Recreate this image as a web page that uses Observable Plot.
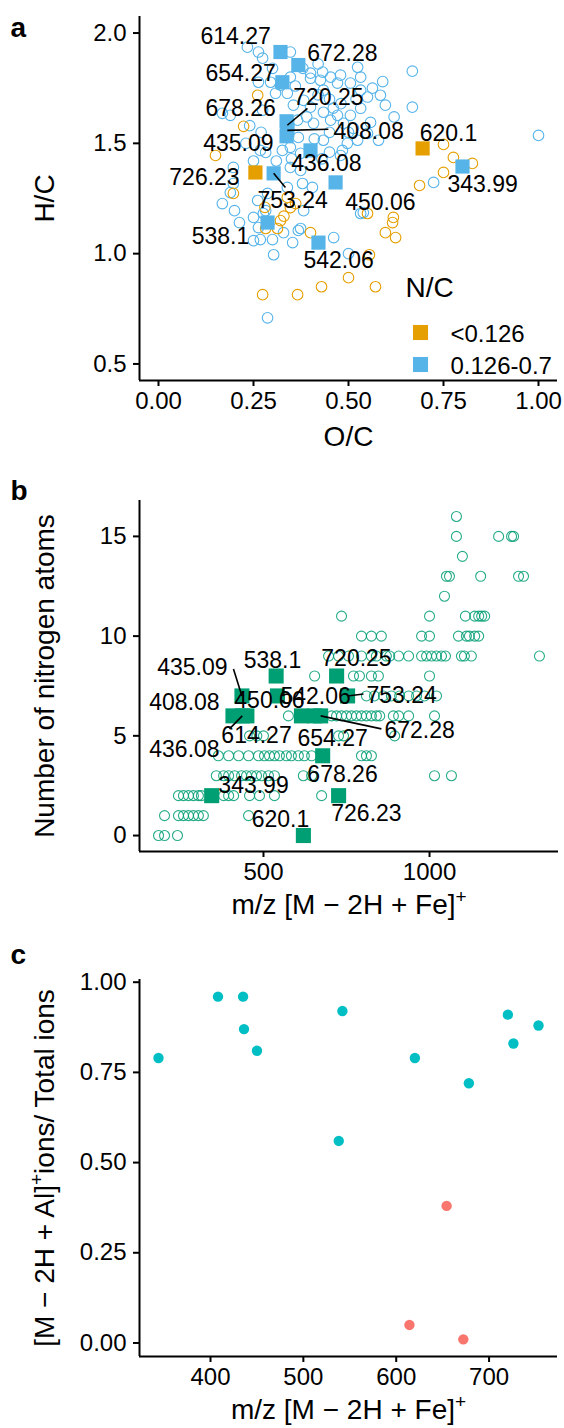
<!DOCTYPE html>
<html><head><meta charset="utf-8">
<script src="https://cdn.jsdelivr.net/npm/d3@7"></script>
<script src="https://cdn.jsdelivr.net/npm/@observablehq/plot@0.6"></script>
<style>
body{margin:0;background:#fff;}
#chart{width:564px;}
#chart svg{display:block;}
</style></head><body><div id="chart"></div>
<script>
// ---------- data ----------
const ions   = ["343.99","408.08","435.09","436.08","450.06","538.1","542.06","614.27","620.1","654.27","672.28","678.26","720.25","726.23","753.24"];
const ionMZ  = [343.99,408.08,435.09,436.08,450.06,538.1,542.06,614.27,620.1,654.27,672.28,678.26,720.25,726.23,753.24];
const ionOC  = [0.80,0.339,0.337,0.40,0.466,0.287,0.421,0.321,0.695,0.326,0.368,0.337,0.339,0.255,0.303];
const ionHC  = [1.395,1.559,1.532,1.468,1.323,1.141,1.05,1.914,1.477,1.777,1.855,1.60,1.582,1.368,1.364];
const ionNC  = ["0.126-0.7","0.126-0.7","0.126-0.7","0.126-0.7","0.126-0.7","0.126-0.7","0.126-0.7","0.126-0.7","<0.126","0.126-0.7","0.126-0.7","0.126-0.7","0.126-0.7","<0.126","0.126-0.7"];
const ionN   = [2,6,7,6,6,8,7,6,0,6,6,4,8,2,7];
const ionRatio = [0.79,0.96,0.96,0.87,0.81,0.56,0.92,0.05,0.79,0.38,0.01,0.72,0.91,0.83,0.88];
const ionGroup = ["high","high","high","high","high","high","high","low","high","low","low","high","high","high","high"];

// label anchor positions (data units, as placed by the repel layout)
const labA_OC = [0.853,0.553,0.21,0.442,0.584,0.163,0.474,0.203,0.763,0.216,0.484,0.216,0.447,0.121,0.353];
const labA_HC = [1.314,1.555,1.50,1.409,1.232,1.077,0.968,1.986,1.545,1.818,1.905,1.659,1.709,1.345,1.241];
const labB_MZ = [470,262,286,262,518,527,657,479,551,708,970,738,780,810,916];
const labB_N  = [2.5,6.65,8.4,4.3,6.75,8.75,6.95,5.0,0.8,4.85,5.25,3.05,8.85,1.1,7.0];
// leader segments: [ion, endX, endY]
const segA = [["720.25",0.392,1.659],["408.08",0.447,1.564],["753.24",0.334,1.30]];
const segB = [["435.09",409.6,8.35],["436.08",397.6,5.35],["672.28",855,5.35],["753.24",801,7.1]];

// panel a background compounds (O/C, H/C)
const blueOC = [0.234,0.263,0.347,0.668,0.668,1.0,0.524,0.563,0.453,0.479,0.532,0.40,0.432,0.579,0.497,0.479,0.724,0.326,0.168,0.189,0.274,0.282,0.189,0.20,0.213,0.25,0.263,0.25,0.268,0.30,0.303,0.287,0.532,0.374,0.329,0.353,0.461,0.50,0.197,0.261,0.282,0.368,0.379,0.405,0.382,0.539,0.274,0.263,0.295,0.321,0.308,0.339,0.347,0.40,0.426,0.434,0.471,0.505,0.532,0.40,0.434,0.471,0.505,0.532,0.382,0.355,0.366,0.408,0.453,0.487,0.513,0.558,0.55,0.524,0.484,0.434,0.374,0.368,0.347,0.268,0.347,0.374,0.339,0.287,0.276,0.197,0.168,0.584,0.597,0.45,0.48,0.42,0.46,0.39,0.50,0.45,0.41,0.52,0.55,0.36,0.38,0.30,0.42,0.45,0.43,0.35,0.31,0.25,0.23,0.27,0.24,0.59,0.62];
const blueHC = [1.936,1.914,1.914,1.827,1.664,1.536,1.845,1.75,1.80,1.809,1.80,1.795,1.823,1.514,1.50,1.445,1.323,1.468,1.636,1.627,1.65,1.459,1.277,1.195,1.141,1.164,1.118,1.059,1.064,1.064,0.995,0.709,1.182,1.114,1.095,1.05,1.073,1.0,1.391,1.241,1.195,1.105,1.318,1.30,1.195,1.186,1.886,1.777,1.777,1.764,1.727,1.727,1.80,1.818,1.786,1.741,1.773,1.773,1.741,1.664,1.641,1.627,1.627,1.659,1.695,1.673,1.605,1.591,1.605,1.591,1.568,1.595,1.545,1.514,1.468,1.514,1.455,1.527,1.482,1.468,1.391,1.377,1.30,1.273,1.182,1.318,1.227,1.718,1.673,1.70,1.68,1.72,1.66,1.62,1.55,1.55,1.52,1.70,1.71,1.76,1.84,1.84,1.86,1.46,1.43,1.43,1.42,1.42,1.50,1.55,1.58,1.78,1.62];
const orangeOC = [0.261,0.224,0.15,0.197,0.75,0.776,0.826,0.75,0.687,0.274,0.282,0.55,0.618,0.616,0.597,0.624,0.40,0.555,0.50,0.429,0.571,0.366,0.347,0.321,0.339,0.313,0.361,0.28,0.33];
const orangeHC = [1.718,1.577,1.445,1.273,1.495,1.436,1.409,1.368,1.309,0.814,1.114,1.182,1.164,1.141,1.095,1.073,1.095,0.995,0.891,0.85,0.85,0.814,1.209,1.15,1.255,1.114,1.227,1.21,1.17];

// panel b background compounds: m/z per nitrogen count
const nRows = [0,1,2,3,4,5,6,7,8,9,10,11,12,13,14,15,16];
const mzRows = [
  [184,202,241],
  [202,244,259,274,289,304,319,455],
  [244,259,274,289,304,313,380,395,410,458,488,533,675],
  [358,380,395,413,434,449,464,479,494,515,533,620,645,1015,1066],
  [364,395,425,455,485,503,518,533,548,569,584,605,623,645,795,810,825],
  [458,480,500,726,741,895],
  [575,705,720,735,750,765,780,795,810,825,840,850,891,907,937,1015],
  [810,834,861,885,910,937,961,985,1021],
  [654,771,789,825,846,1000],
  [696,726,756,795,825,840,870,880,907,937,976,991,1006,1021,1036,1048,1096,1105,1126,1331],
  [795,825,855,976,1000,1087,1111,1120,1136,1148],
  [735,1000,1108,1136,1148,1157,1166],
  [1045],
  [1051,1060,1154,1268,1283],
  [1099],
  [1081,1208,1247,1253],
  [1081]
];

const ncClasses = ["<0.126","0.126-0.7"];
const ocTicks = [0,0.25,0.5,0.75,1];
const hcTicks = [0.5,1.0,1.5,2.0];
const ocLimits = [0,1], hcLimits = [0.5,2];
const mzTicksB = [500,1000], nTicks = [0,5,10,15];
const mzTicksC = [400,500,600,700], ratioTicks = [0,0.25,0.5,0.75,1];
const ratioGroups = ["low","high"];

// ---------- styling ----------
const FONT = "'Liberation Sans', Arial, Helvetica, sans-serif";
const ORANGE="#E69F00", BLUE="#56B4E9", GREEN="#009E73", RED="#F8766D", CYAN="#00BFC4";
const expand = ([a,b], f=0.05) => { const d=(b-a)*f; return [a-d,b+d]; };

const ionData = ions.map((id,i)=>({id, mz:ionMZ[i], oc:ionOC[i], hc:ionHC[i], nc:ionNC[i], n:ionN[i],
  ratio:ionRatio[i], grp:ionGroup[i], lax:labA_OC[i], lay:labA_HC[i], lbx:labB_MZ[i], lby:labB_N[i]}));
const byId = Object.fromEntries(ionData.map(d=>[d.id,d]));
const circA = [
  ...blueOC.map((x,i)=>({oc:x, hc:blueHC[i], nc:"0.126-0.7"})),
  ...orangeOC.map((x,i)=>({oc:x, hc:orangeHC[i], nc:"<0.126"}))
];
const circB = nRows.flatMap((n,i)=>mzRows[i].map(mz=>({mz,n})));
const linksA = segA.map(([id,x2,y2])=>({x1:byId[id].oc,y1:byId[id].hc,x2,y2}));
const linksB = segB.map(([id,x2,y2])=>({x1:byId[id].mz,y1:byId[id].n,x2,y2}));

const baseStyle = {fontFamily:FONT, fontSize:"24px", color:"black", background:"white", overflow:"visible"};
const axisOpts = {tickSize:6, strokeWidth:2, fontSize:24, label:null};
const T = (s, o) => Plot.text([s], {lineAnchor:"middle", textAnchor:"middle", fontSize:28, ...o});

function applySup(svg){
  svg.querySelectorAll("text").forEach(t=>{
    const s = t.textContent;
    if(!s.includes("^{")) return;
    const parts = s.split(/\^\{([^}]*)\}/);
    while(t.firstChild) t.removeChild(t.firstChild);
    let prevSup = false;
    parts.forEach((p,i)=>{
      if(p==="") { if(i%2===1) prevSup=true; return; }
      const ts = document.createElementNS("http://www.w3.org/2000/svg","tspan");
      ts.textContent = p;
      if(i%2===1){ ts.setAttribute("dy","-11"); ts.setAttribute("font-size","19"); prevSup=true; }
      else if(prevSup){ ts.setAttribute("dy","11"); prevSup=false; }
      t.appendChild(ts);
    });
  });
}
function fixTickFont(svg){
  svg.querySelectorAll('g[aria-label*="tick label"], g[aria-label$="-axis"]').forEach(g=>{
    g.setAttribute("font-size","24");
    g.style.fontSize = "24px";
    g.querySelectorAll("text").forEach(t=>{ t.style.fontSize = "24px"; });
  });
}

// ---------- panel a ----------
const xDomA = expand(ocLimits), yDomA = expand(hcLimits);
const mT_A = 16;
const legendMarks = [
  T("N/C", {frameAnchor:"top-left", dx:405-139, dy:288-mT_A, textAnchor:"start"}),
  ...ncClasses.flatMap((c,i)=>[
    Plot.dot([c], {frameAnchor:"top-left", dx:420-139, dy:332-mT_A+i*32, symbol:"square", r:8.5, fill:[ORANGE,BLUE][i], stroke:null}),
    T(c, {frameAnchor:"top-left", dx:450-139, dy:334-mT_A+i*32, textAnchor:"start", fontSize:24})
  ])
];
const plotA = Plot.plot({
  width:564, height:462, marginLeft:139, marginRight:7, marginTop:mT_A, marginBottom:82,
  style: baseStyle,
  x:{domain:xDomA}, y:{domain:yDomA},
  color:{domain:ncClasses, range:[ORANGE,BLUE]},
  marks:[
    Plot.axisX({...axisOpts, ticks:ocTicks, tickFormat:d3.format(".2f"), tickPadding:5}),
    Plot.axisY({...axisOpts, ticks:hcTicks, tickFormat:d3.format(".1f"), tickPadding:7}),
    Plot.ruleX([xDomA[0]], {strokeWidth:2}),
    Plot.ruleY([yDomA[0]], {strokeWidth:2}),
    Plot.dot(circA, {x:"oc", y:"hc", r:5.3, stroke:"nc", fill:"none", strokeWidth:1.1}),
    Plot.dot(ionData, {x:"oc", y:"hc", symbol:"square", r:8, fill:"nc"}),
    Plot.link(linksA, {x1:"x1", y1:"y1", x2:"x2", y2:"y2", stroke:"black", strokeWidth:1.6}),
    Plot.text(ionData, {x:"lax", y:"lay", text:"id", fontSize:23, fill:"black"}),
    ...legendMarks,
    T("H/C", {frameAnchor:"left", dx:45-139, rotate:-90}),
    T("O/C", {frameAnchor:"bottom", dy:57}),
    T("a", {frameAnchor:"top-left", dx:10-139, dy:12, textAnchor:"start", fontWeight:"bold"})
  ]
});

// ---------- panel b ----------
const xDomB = expand(d3.extent([...circB.map(d=>d.mz), ...ionMZ]));
const yDomB = expand(d3.extent([...circB.map(d=>d.n), ...ionN]));
const plotB = Plot.plot({
  width:564, height:468, marginLeft:139, marginRight:6, marginTop:38, marginBottom:79,
  style: baseStyle,
  x:{domain:xDomB}, y:{domain:yDomB},
  marks:[
    Plot.axisX({...axisOpts, ticks:mzTicksB, tickFormat:d=>String(d), tickPadding:5}),
    Plot.axisY({...axisOpts, ticks:nTicks, tickFormat:d=>String(d), tickPadding:7}),
    Plot.ruleX([xDomB[0]], {strokeWidth:2}),
    Plot.ruleY([yDomB[0]], {strokeWidth:2}),
    Plot.dot(circB, {x:"mz", y:"n", r:5, stroke:GREEN, strokeOpacity:0.85, fill:"none", strokeWidth:1.1}),
    Plot.dot(ionData, {x:"mz", y:"n", symbol:"square", r:8.5, fill:GREEN}),
    Plot.link(linksB, {x1:"x1", y1:"y1", x2:"x2", y2:"y2", stroke:"black", strokeWidth:1.6}),
    Plot.text(ionData, {x:"lbx", y:"lby", text:"id", fontSize:23, fill:"black"}),
    T("Number of nitrogen atoms", {frameAnchor:"left", dx:45-139, rotate:-90}),
    T("m/z [M − 2H + Fe]^{+}", {frameAnchor:"bottom", dy:54}),
    T("b", {frameAnchor:"top-left", dx:10-139, dy:-9, textAnchor:"start", fontWeight:"bold"})
  ]
});

// ---------- panel c ----------
const xDomC = expand(d3.extent(ionMZ));
const yDomC = expand(d3.extent(ionRatio));
const plotC = Plot.plot({
  width:564, height:498, marginLeft:139, marginRight:7, marginTop:49, marginBottom:72,
  style: baseStyle,
  x:{domain:xDomC}, y:{domain:yDomC},
  color:{domain:ratioGroups, range:[RED,CYAN]},
  marks:[
    Plot.axisX({...axisOpts, ticks:mzTicksC, tickFormat:d=>String(d), tickPadding:5}),
    Plot.axisY({...axisOpts, ticks:ratioTicks, tickFormat:d3.format(".2f"), tickPadding:7}),
    Plot.ruleX([xDomC[0]], {strokeWidth:2}),
    Plot.ruleY([yDomC[0]], {strokeWidth:2}),
    Plot.dot(ionData, {x:"mz", y:"ratio", r:5.2, fill:"grp"}),
    T("[M − 2H + Al]^{+}ions/ Total ions", {frameAnchor:"left", dx:45-139, rotate:-90}),
    T("m/z [M − 2H + Fe]^{+}", {frameAnchor:"bottom", dy:54}),
    T("c", {frameAnchor:"top-left", dx:10-139, dy:-24, textAnchor:"start", fontWeight:"bold"})
  ]
});

const chart = document.getElementById("chart");
[plotA, plotB, plotC].forEach(p=>{ applySup(p); fixTickFont(p); chart.appendChild(p); });
</script></body></html>
